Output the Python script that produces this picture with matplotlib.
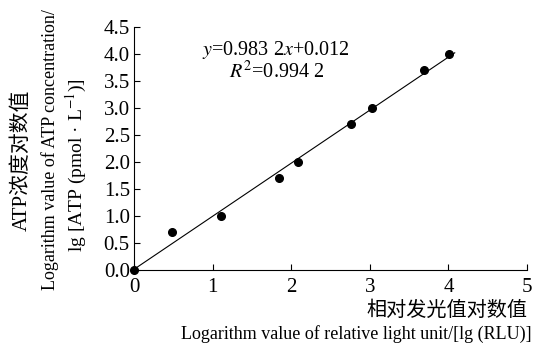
import matplotlib
matplotlib.use('agg')
import matplotlib.pyplot as plt

# lg(RLU) vs lg(ATP) measured points
x_vals = [0.0, 0.48, 1.11, 1.84, 2.09, 2.76, 3.03, 3.69, 4.01]
y_vals = [0.0, 0.70, 1.00, 1.70, 2.00, 2.70, 3.00, 3.70, 4.00]

slope = 0.9832
intercept = 0.012
fit_x = [0.0, 4.08]

x_ticks = [0, 1, 2, 3, 4, 5]
y_ticks = [0.0, 0.5, 1.0, 1.5, 2.0, 2.5, 3.0, 3.5, 4.0, 4.5]

fonts = ['Liberation Serif', 'Noto Sans CJK SC']
plt.rcParams['font.family'] = fonts
plt.rcParams['mathtext.fontset'] = 'stix'

fig = plt.figure(figsize=(5.34, 3.43), dpi=100)
ax = fig.add_axes([0.251, 0.213, 0.736, 0.708])

ax.plot(fit_x, [slope * v + intercept for v in fit_x], color='black', lw=0.8)
ax.plot(x_vals, y_vals, 'o', color='black', ms=5.5, clip_on=False, zorder=3)

ax.set_xlim(0, 5)
ax.set_ylim(0, 4.5)
ax.set_xticks(x_ticks)
ax.set_xticklabels([str(t) for t in x_ticks])
ax.set_yticks(y_ticks)
ax.set_yticklabels(['%.1f' % t for t in y_ticks])
ax.tick_params(direction='in', length=4, width=0.8, labelsize=15)
ax.tick_params(axis='x', pad=6)
ax.tick_params(axis='y', pad=3)
for s in ['top', 'right']:
    ax.spines[s].set_visible(False)

ax.text(1.81, 4.07, r'$y$=0.983 2$x$+0.012', fontsize=14.5, ha='center', va='center')
ax.text(1.81, 3.66, r'$R^2$=0.994 2', fontsize=14.5, ha='center', va='center')

fig.text(0.987, 0.093, '相对发光值对数值', fontsize=14.5, ha='right', va='center')
fig.text(0.996, 0.026, 'Logarithm value of relative light unit/[lg (RLU)]',
         fontsize=13, ha='right', va='center')

fig.text(0.041, 0.534, 'ATP浓度对数值', fontsize=15, rotation=90, ha='center', va='center')
fig.text(0.094, 0.563, 'Logarithm value of ATP concentration/', fontsize=13,
         rotation=90, ha='center', va='center')
fig.text(0.144, 0.519, r'lg [ATP (pmol · L$^{-1}$)]', fontsize=14,
         rotation=90, ha='center', va='center')

fig.savefig('out.png', dpi=100, facecolor='white')
